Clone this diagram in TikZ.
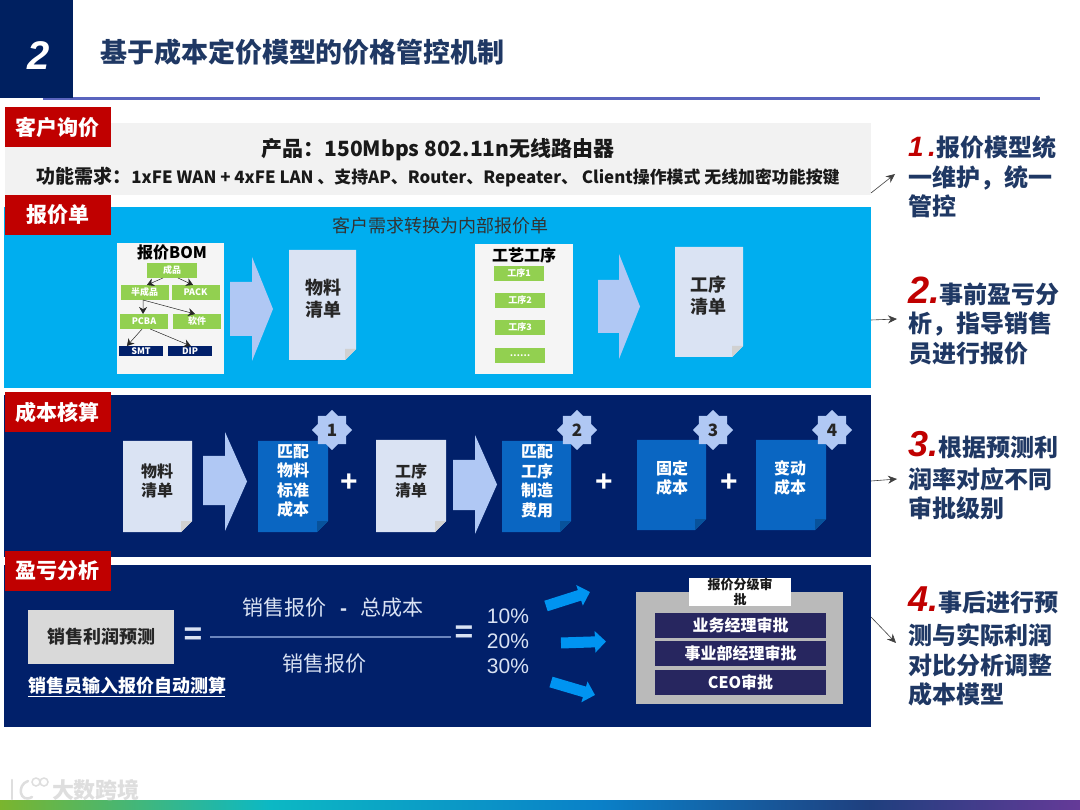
\documentclass[tikz,border=0pt]{standalone}
\usepackage{fontspec}
\setmainfont{Noto Sans CJK SC}
\newfontfamily\arialf{Liberation Sans}
\usetikzlibrary{arrows.meta,calc,shapes.geometric}
\definecolor{navyT}{HTML}{002060}
\definecolor{navyP}{HTML}{01206A}
\definecolor{titleC}{HTML}{1F3864}
\definecolor{redT}{HTML}{C00000}
\definecolor{skyP}{HTML}{00AEEF}
\definecolor{docC}{HTML}{DAE3F3}
\definecolor{docB}{HTML}{0A66C2}
\definecolor{arrC}{HTML}{B0C8F4}
\definecolor{greenB}{HTML}{92D050}
\definecolor{lightT}{HTML}{D9E2F3}
\definecolor{rowC}{HTML}{27265F}
\definecolor{barA}{HTML}{7AB52E}
\definecolor{barB}{HTML}{0CB8C4}
\definecolor{barC}{HTML}{0A80C8}
\definecolor{barD}{HTML}{1F3F7E}
\definecolor{barE}{HTML}{653A98}
\newcommand{\rednum}{\color{redT}\arialf\itshape\bfseries}
\newcommand{\fwcolon}{^^^^ff1a}
\newcommand{\fwcomma}{^^^^ff0c}
\tikzset{
 px/.style={inner sep=0pt,outer sep=0pt},
 rect/.style={px,draw=none,anchor=north west},
 tagbox/.style={rect,fill=redT,minimum width=106pt,minimum height=40pt,text=white,font=\fontsize{21}{23}\selectfont\bfseries},
 greenbox/.style={px,fill=greenB,text=white,minimum width=48pt,minimum height=15pt,font=\fontsize{9}{10}\selectfont\bfseries},
 darkbox/.style={px,fill=navyP,text=white,minimum width=44pt,minimum height=10pt,font=\fontsize{9}{10}\selectfont\bfseries},
 tinyarrow/.style={draw=black!85,line width=.5pt,-{Stealth[length=7pt,width=8pt]}},
 sidearrow/.style={draw=black!75,line width=.6pt,-{Stealth[length=9pt,width=8pt]}},
 blockarrow/.style={draw=skyP!85!blue,line width=11pt,-{Triangle[length=11pt,width=21pt]}},
 sidetext/.style={px,anchor=north west,align=left,text=titleC,font=\fontsize{24}{29.5}\selectfont\bfseries},
 doctext/.style={px,align=center,font=\fontsize{16}{19.5}\selectfont\bfseries},
 rowbox/.style={px,fill=rowC,text=white,minimum width=171pt,minimum height=25pt,font=\fontsize{16}{18}\selectfont\bfseries},
 lighttext/.style={px,text=lightT,font=\fontsize{21}{24}\selectfont},
 pct/.style={px,text=lightT,font=\arialf\fontsize{21}{24}\selectfont},
 opsign/.style={px,text=white,font=\arialf\bfseries\fontsize{30}{32}\selectfont},
}
% document with folded corner: name, x0, y0, x1, y1, fill, fold colour
\newcommand{\docshape}[7]{%
 \path[fill=#6] (#2,#3) -- (#4,#3) -- (#4,#5-11) -- (#4-11,#5) -- (#2,#5) -- cycle;
 \path[fill=#7] (#4,#5-11) -- (#4-11,#5-11) -- (#4-11,#5) -- cycle;
 \coordinate (#1) at ({(#2+#4)/2},{(#3+#5)/2});}
% block arrow: x0, x1, x2, shaft top, shaft bottom, head top, head bottom
\newcommand{\bigarrow}[7]{%
 \path[fill=arrC] (#1,#4) -- (#2,#4) -- (#2,#6) -- (#3,{(#6+#7)/2}) -- (#2,#7) -- (#2,#5) -- (#1,#5) -- cycle;}
% eight-point star
\newcommand{\starbadge}[4]{%
 \node[star,star points=8,star point ratio=1.3,minimum size=40pt,px,fill=arrC,text=black!85,font=\fontsize{17}{18}\selectfont\bfseries] (#1) at (#2,#3) {#4};}
\begin{document}
\begin{tikzpicture}[x=1pt,y=-1pt]
\useasboundingbox (0,0) rectangle (1080,810);
\fill[white] (0,0) rectangle (1080,810);
% header
\coordinate (ruleA) at (43,98.5); \coordinate (ruleB) at (1040,98.5);
\draw[line width=2.2pt,color=titleC!60!blue!70] (ruleA) -- (ruleB);
\node[rect,fill=navyT,minimum width=73pt,minimum height=98pt] (hdr) at (0,0) {};
\node[px,text=white,font=\arialf\itshape\bfseries\fontsize{40}{42}\selectfont] (num) at (39,56) {2};
\node[px,anchor=west,text=titleC,font=\fontsize{27}{30}\selectfont\bfseries] (title) at (100,52) {基于成本定价模型的价格管控机制};
% panels
\node[rect,fill=black!5,minimum width=866pt,minimum height=72pt] (panelA) at (5,123) {};
\node[rect,fill=skyP,minimum width=867pt,minimum height=181pt] (panelB) at (4,207) {};
\node[rect,fill=navyP,minimum width=867pt,minimum height=162pt] (panelC) at (4,395) {};
\node[rect,fill=navyP,minimum width=867pt,minimum height=162pt] (panelD) at (4,565) {};
\node[tagbox] (tagA) at (5,107) {客户询价};
\node[tagbox] (tagB) at (5,195) {报价单};
\node[tagbox] (tagC) at (5,392) {成本核算};
\node[tagbox] (tagD) at (5,551) {盈亏分析};
% panel A
\node[px,font=\fontsize{21}{24}\selectfont\bfseries,text=black!90] (prod) at (438,150) {产品\fwcolon 150Mbps 802.11n无线路由器};
\node[px,font=\fontsize{16.9}{19}\selectfont\bfseries,text=black!90] (req) at (438,177) {\fontsize{19}{21}\selectfont 功能需求\fwcolon\fontsize{16.9}{19}\selectfont 1xFE WAN + 4xFE LAN 、支持AP、Router、Repeater、 Client操作模式 无线加密功能按键};
% panel B
\node[px,text=black!80,font=\fontsize{18}{20}\selectfont] (conv) at (440,226) {客户需求转换为内部报价单};
\node[rect,fill=black!4,minimum width=107pt,minimum height=131pt] (bom) at (117,243) {};
\node[px,font=\fontsize{16}{18}\selectfont\bfseries,text=black] (bomt) at (172,252) {报价BOM};
\node[greenbox,minimum width=50pt] (g0) at (172,270.5) {成品};
\node[greenbox] (g1) at (144.5,292.5) {半成品};
\node[greenbox] (g2) at (195.5,292.5) {PACK};
\node[greenbox] (g3) at (144,321.5) {PCBA};
\node[greenbox] (g4) at (197,321.5) {软件};
\node[darkbox] (d1) at (141,351) {SMT};
\node[darkbox] (d2) at (190,351) {DIP};
\draw[tinyarrow] ($(g0.south west)!.32!(g0.south east)$) -- ($(g1.north west)!.55!(g1.north east)$);
\draw[tinyarrow] ($(g0.south west)!.62!(g0.south east)$) -- ($(g2.north west)!.45!(g2.north east)$);
\draw[tinyarrow] ($(g1.south west)!.47!(g1.south east)$) -- ($(g3.north west)!.48!(g3.north east)$);
\draw[tinyarrow] ($(g1.south west)!.47!(g1.south east)$) -- ($(g4.north west)!.46!(g4.north east)$);
\draw[tinyarrow] ($(g3.south west)!.46!(g3.south east)$) -- ($(d1.north west)!.18!(d1.north east)$);
\draw[tinyarrow] ($(g3.south west)!.63!(g3.south east)$) -- ($(d2.north west)!.52!(d2.north east)$);
\bigarrow{230}{252}{273}{282}{336}{257}{361}
\docshape{docA}{289}{250}{356}{360}{docC}{black!18}
\node[doctext,font=\fontsize{18}{22}\selectfont\bfseries,text=black!85] (docAt) at (323,299) {物料\\清单};
\node[rect,fill=black!4,minimum width=98pt,minimum height=130pt] (proc) at (475,244) {};
\node[px,font=\fontsize{16}{18}\selectfont\bfseries,text=black] (proct) at (524,255) {工艺工序};
\node[greenbox,minimum width=50pt] (p1) at (519,273.5) {工序1};
\node[greenbox,minimum width=50pt] (p2) at (520,300.5) {工序2};
\node[greenbox,minimum width=50pt] (p3) at (520,327.5) {工序3};
\node[greenbox,minimum width=50pt] (p4) at (520,355.5) {……};
\bigarrow{598}{619}{640}{280}{333}{254}{359}
\docshape{docB}{675}{247}{743}{357}{docC}{black!18}
\node[doctext,font=\fontsize{18}{22}\selectfont\bfseries,text=black!85] (docBt) at (708,296) {工序\\清单};
% panel C
\docshape{docC1}{123}{441}{192}{532}{docC}{black!18}
\node[doctext,text=black!85] (c1) at (157,481) {物料\\清单};
\bigarrow{203}{225}{247}{456}{505}{432}{531}
\docshape{docC2}{258}{441}{328}{532}{docB}{docB!80!black}
\node[doctext,text=white] (c2) at (293,481) {匹配\\物料\\标准\\成本};
\starbadge{s1}{332}{430}{1}
\node[opsign] (plus1) at (349,483) {+};
\docshape{docC3}{376}{440}{446}{532}{docC}{black!18}
\node[doctext,text=black!85] (c3) at (411,481) {工序\\清单};
\bigarrow{453}{475}{497}{460}{510}{435}{534}
\docshape{docC4}{502}{441}{571}{532}{docB}{docB!80!black}
\node[doctext,text=white] (c4) at (537,481) {匹配\\工序\\制造\\费用};
\starbadge{s2}{577}{430}{2}
\node[opsign] (plus2) at (604,483) {+};
\docshape{docC5}{637}{440}{706}{530}{docB}{docB!80!black}
\node[doctext,text=white] (c5) at (672,478) {固定\\成本};
\starbadge{s3}{713}{430}{3}
\node[opsign] (plus3) at (729,483) {+};
\docshape{docC6}{756}{440}{826}{530}{docB}{docB!80!black}
\node[doctext,text=white] (c6) at (790,478) {变动\\成本};
\starbadge{s4}{832}{430}{4}
% panel D
\node[rect,fill=black!15,minimum width=146pt,minimum height=54pt,text=black!85,font=\fontsize{18}{20}\selectfont\bfseries] (pred) at (28,610) {销售利润预测};
\node[px,anchor=west,text=white,font=\fontsize{18}{20}\selectfont\bfseries] (input) at (28,686) {销售员输入报价自动测算};
\coordinate (ulA) at (28,696); \coordinate (ulB) at (225,696);
\draw[white,line width=.9pt] (ulA) -- (ulB);
\node[opsign,font=\arialf\bfseries\fontsize{32}{34}\selectfont,text=lightT] (eq1) at (193,636) {=};
\coordinate (fracA) at (210,636.5); \coordinate (fracB) at (451,636.5);
\draw[line width=2pt,color=arrC!60!navyP] (fracA) -- (fracB);
\node[lighttext] (numr) at (333,608) {销售报价\hspace{14pt}{\arialf\bfseries -}\hspace{14pt}总成本};
\node[lighttext] (denr) at (324,664) {销售报价};
\node[opsign,font=\arialf\bfseries\fontsize{32}{34}\selectfont,text=lightT] (eq2) at (464,634) {=};
\node[pct] (t10) at (508,616) {10\%};
\node[pct] (t20) at (508,641) {20\%};
\node[pct] (t30) at (508,666) {30\%};
\coordinate (a1s) at (546,606); \coordinate (a1e) at (590,592);
\coordinate (a2s) at (561,643); \coordinate (a2e) at (606,641.5);
\coordinate (a3s) at (551,682); \coordinate (a3e) at (595,695);
\draw[blockarrow] (a1s) -- (a1e);
\draw[blockarrow] (a2s) -- (a2e);
\draw[blockarrow] (a3s) -- (a3e);
\node[rect,fill=black!27,minimum width=207pt,minimum height=112pt] (appr) at (636,592) {};
\begin{scope}
\clip (689,578) rectangle (791,606);
\node[rect,fill=white,minimum width=102pt,minimum height=28pt] (apprT) at (689,578) {};
\node[px,align=center,text=black!90,font=\fontsize{13}{14.5}\selectfont\bfseries] (apprTt) at (740,592) {报价分级审\\批};
\end{scope}
\node[rowbox] (r1) at (740.5,625.5) {业务经理审批};
\node[rowbox] (r2) at (740.5,653.5) {事业部经理审批};
\node[rowbox] (r3) at (740.5,682.5) {CEO审批};
% side notes
\node[sidetext] (n1) at (908,133) {\rule{0pt}{24pt}{\rednum\fontsize{28}{28}\selectfont 1\,.}报价模型统\\一维护\fwcomma 统一\\管控};
\node[sidetext] (n2) at (908,276.5) {\rule{0pt}{24pt}{\rednum\fontsize{38}{28}\selectfont 2.}事前盈亏分\\析\fwcomma 指导销售\\员进行报价};
\node[sidetext] (n3) at (908,431) {\rule{0pt}{24pt}{\rednum\fontsize{36}{28}\selectfont 3.}根据预测利\\[2.5pt]润率对应不同\\审批级别};
\node[sidetext] (n4) at (908,586.5) {\rule{0pt}{24pt}{\rednum\fontsize{36}{28}\selectfont 4.}事后进行预\\[4pt]测与实际利润\\对比分析调整\\成本模型};
\coordinate (q1) at (871,193); \coordinate (e1) at (895,174);
\coordinate (q2) at (871,320); \coordinate (e2) at (897,319);
\coordinate (q3) at (871,481); \coordinate (e3) at (897,479);
\coordinate (q4) at (871,617); \coordinate (e4) at (896,643);
\draw[sidearrow] (q1) -- (e1);
\draw[sidearrow] (q2) -- (e2);
\draw[sidearrow] (q3) -- (e3);
\draw[sidearrow] (q4) -- (e4);
% footer
\shade[left color=barA,right color=barB] (0,800) rectangle (270.2,810);
\shade[left color=barB,right color=barC] (270,800) rectangle (600.2,810);
\shade[left color=barC,right color=barD] (600,800) rectangle (870.2,810);
\shade[left color=barD,right color=barE] (870,800) rectangle (1080,810);
\node[px,anchor=west,text=black!13,font=\fontsize{22}{24}\selectfont\bfseries] (wm) at (52,790) {大数跨境};
\draw[black!13,line width=2.5pt,line cap=round] (12,780) -- (12,799);
\draw[black!13,line width=2.5pt,line cap=round] (32,797) .. controls (20,804) and (16,785) .. (28,781);
\draw[black!13,line width=1.5pt] (36,782) circle (4) (44,782) circle (4);
\end{tikzpicture}
\end{document}
